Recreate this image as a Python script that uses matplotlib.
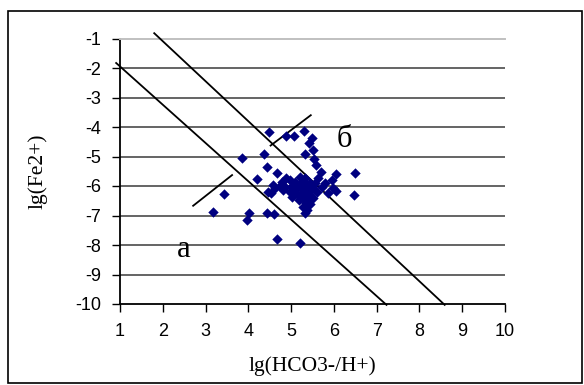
import matplotlib
matplotlib.use("Agg")
import matplotlib.pyplot as plt
from matplotlib.patches import Rectangle

# ---- data ----
x_pts = [4.48, 4.88, 5.07, 5.30, 5.49, 5.42, 5.51, 5.32, 5.53, 5.58,
         5.70, 6.05, 6.49, 3.85, 4.36, 4.43, 4.67, 4.20, 3.43, 3.17,
         4.01, 3.97, 4.43, 4.60, 4.67, 5.21, 4.46, 4.62, 4.74, 4.57,
         4.79, 4.97, 5.21, 5.32, 5.44, 5.51, 5.28, 5.14, 4.97, 4.81,
         5.37, 5.51, 5.25, 5.28, 5.37, 5.32, 5.60, 5.86, 5.95, 5.79,
         5.98, 6.05, 6.47, 5.72, 5.04, 5.09, 4.86, 4.53, 5.21, 5.39,
         5.34, 5.18, 5.02, 5.63, 4.88, 5.10, 5.20, 5.40, 5.45, 5.15,
         5.30, 5.40, 5.25, 5.35, 5.10, 5.55, 5.00, 5.45, 5.30]
y_pts = [-4.17, -4.31, -4.31, -4.14, -4.37, -4.54, -4.78, -4.92, -5.08, -5.29,
         -5.53, -5.59, -5.56, -5.05, -4.92, -5.36, -5.56, -5.76, -6.27, -6.88,
         -6.92, -7.15, -6.92, -6.95, -7.80, -7.93, -6.20, -6.07, -6.00, -5.97,
         -5.86, -5.80, -5.69, -5.73, -5.90, -6.07, -6.14, -6.07, -6.20, -6.14,
         -6.37, -6.41, -6.37, -6.71, -6.81, -6.92, -6.20, -6.24, -5.80, -5.90,
         -6.07, -6.17, -6.31, -6.03, -6.24, -5.97, -6.03, -6.24, -5.93, -6.07,
         -6.58, -6.47, -6.37, -5.73, -5.73, -6.10, -6.00, -6.20, -6.30, -6.30,
         -5.85, -5.95, -6.25, -6.50, -5.85, -5.90, -6.05, -6.60, -6.40]

line_a_x = [0.91, 7.23]
line_a_y = [-1.83, -10.03]
line_b_x = [1.80, 8.59]
line_b_y = [-0.82, -10.03]
seg_a_x = [2.71, 3.62]
seg_a_y = [-6.67, -5.63]
seg_b_x = [4.52, 5.46]
seg_b_y = [-4.63, -3.60]

label_a = ("а", 2.49, -8.40)
label_b = ("б", 6.25, -4.67)

x_ticks = [1, 2, 3, 4, 5, 6, 7, 8, 9, 10]
y_ticks = [-1, -2, -3, -4, -5, -6, -7, -8, -9, -10]
x_title = "lg(HCO3-/H+)"
y_title = "lg(Fe2+)"

# ---- figure ----
W, H = 584, 385
fig = plt.figure(figsize=(W / 100, H / 100), dpi=100)
fig.patch.set_facecolor("white")
ax = fig.add_axes([120 / W, 1 - 304 / H, (505 - 120) / W, (304 - 38.5) / H])

# outer frame
fig.patches.append(Rectangle((8 / W, 1 - 383 / H), (582 - 8) / W, (383 - 10.7) / H,
                             transform=fig.transFigure, fill=False,
                             edgecolor="black", linewidth=1.2, zorder=0))

ax.set_xlim(1, 10)
ax.set_ylim(-10, -1)

# gridlines
for yv in y_ticks:
    if yv in (-1, -10):
        continue
    ax.axhline(yv, color="#3a3a3a", linewidth=1.1, zorder=1)

ax.spines["right"].set_visible(False)
ax.spines["top"].set_color("#c0c0c0")
ax.spines["top"].set_linewidth(1.4)
ax.spines["left"].set_linewidth(1.3)
ax.spines["bottom"].set_linewidth(1.3)

sans = ["Liberation Sans", "DejaVu Sans"]
serif = ["Liberation Serif", "DejaVu Serif"]

ax.set_xticks(x_ticks)
ax.set_yticks(y_ticks)
ax.set_xticklabels([str(v) for v in x_ticks], family=sans, fontsize=13)
ax.set_yticklabels([str(v) for v in y_ticks], family=sans, fontsize=13)
ax.tick_params(axis="both", direction="out", length=5.5, width=1.0, color="black")
ax.tick_params(axis="x", pad=8)
ax.tick_params(axis="y", pad=8)

# diagonal lines
for xs, ys in [(line_a_x, line_a_y), (line_b_x, line_b_y),
               (seg_a_x, seg_a_y), (seg_b_x, seg_b_y)]:
    ax.plot(xs, ys, color="black", linewidth=1.3, clip_on=False, zorder=3)

# scatter
ax.scatter(x_pts, y_pts, marker="D", s=28, color="#000080", linewidths=0, zorder=4)

for txt, tx, ty in (label_a, label_b):
    ax.text(tx, ty, txt, family=serif, fontsize=22, ha="center", va="baseline", zorder=5)

ax.set_xlabel(x_title, family=serif, fontsize=15.5)
ax.set_ylabel(y_title, family=serif, fontsize=15.5)
ax.xaxis.set_label_coords(0.5, (304 - 366) / (304 - 38.5))
ax.xaxis.label.set_va("center")
ax.yaxis.set_label_coords((38 - 120) / (505 - 120), 0.5)
ax.yaxis.label.set_va("center")

fig.savefig("out.png", dpi=100)
